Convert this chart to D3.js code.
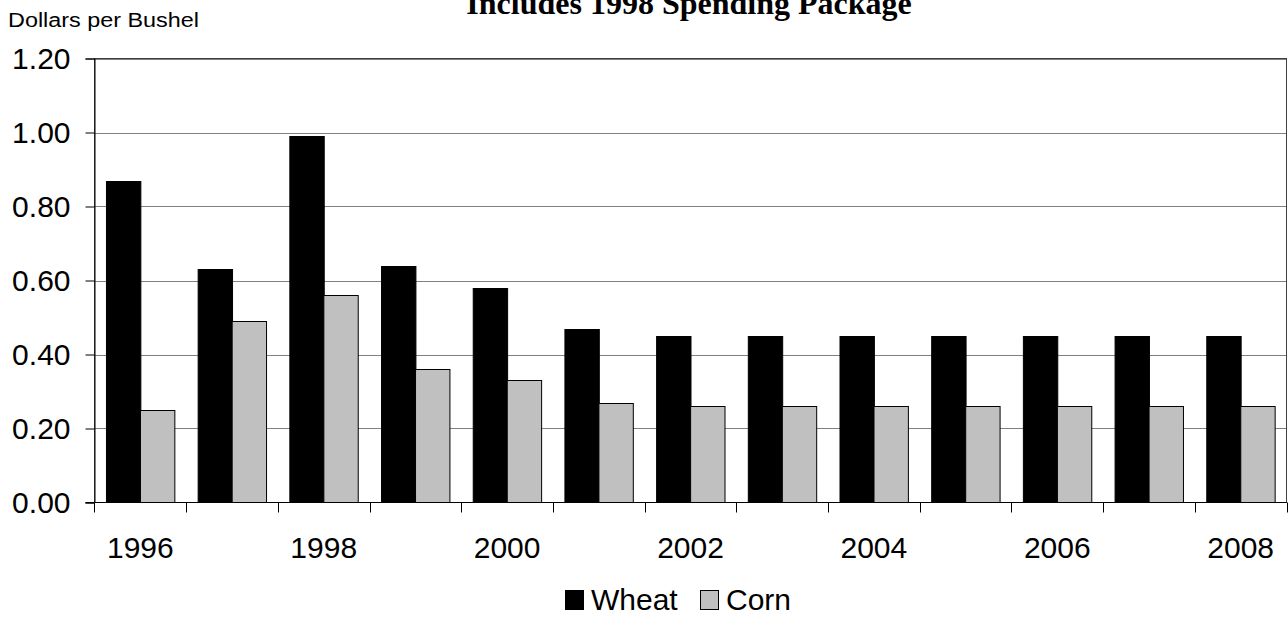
<!DOCTYPE html>
<html>
<head>
<meta charset="utf-8">
<script src="https://cdn.jsdelivr.net/npm/d3@7"></script>
<style>
  body { margin: 0; background: #fff; }
  svg text { font-family: Arial, "Liberation Sans", sans-serif; }
</style>
</head>
<body>
<svg id="chart" width="1288" height="618"></svg>
<script>
// data
const years = ["1996","1997","1998","1999","2000","2001","2002","2003","2004","2005","2006","2007","2008"];
const wheat = [0.87, 0.63, 0.99, 0.64, 0.58, 0.47, 0.45, 0.45, 0.45, 0.45, 0.45, 0.45, 0.45];
const corn  = [0.25, 0.49, 0.56, 0.36, 0.33, 0.27, 0.26, 0.26, 0.26, 0.26, 0.26, 0.26, 0.26];
const seriesNames = ["Wheat", "Corn"];
const seriesColors = ["#000000", "#c0c0c0"];
const yTicks = [0, 0.2, 0.4, 0.6, 0.8, 1.0, 1.2];
const labelYears = ["1996","1998","2000","2002","2004","2006","2008"];

const svg = d3.select("svg#chart");
const m = { left: 94.5, right: 1286.5, top: 58.5, bottom: 502.5 };

const x0 = d3.scaleBand()
    .domain(years)
    .range([m.left, m.right])
    .paddingInner(0.25)
    .paddingOuter(0.125);

const x1 = d3.scaleBand()
    .domain(seriesNames)
    .range([0, x0.bandwidth()]);

const y = d3.scaleLinear()
    .domain([0, 1.2])
    .range([m.bottom, m.top]);

// title (cut off at the top of the image)
svg.append("text")
    .attr("x", 689)
    .attr("y", 14)
    .attr("text-anchor", "middle")
    .style("font-family", "'Liberation Serif', 'Times New Roman', serif")
    .style("font-weight", "bold")
    .style("font-size", "32px")
    .text("Includes 1998 Spending Package");

svg.append("text")
    .attr("x", 8)
    .attr("y", 26.5)
    .attr("textLength", 191)
    .attr("lengthAdjust", "spacingAndGlyphs")
    .style("font-size", "20px")
    .text("Dollars per Bushel");

// gridlines
svg.append("g").selectAll("line")
    .data(yTicks.slice(1))
    .join("line")
    .attr("x1", m.left).attr("x2", m.right)
    .attr("y1", d => Math.round(y(d)) + 0.5).attr("y2", d => Math.round(y(d)) + 0.5)
    .attr("stroke", "#808080")
    .attr("stroke-width", 1);

// plot border
svg.append("rect")
    .attr("x", m.left).attr("y", m.top)
    .attr("width", m.right - m.left).attr("height", m.bottom - m.top)
    .attr("fill", "none")
    .attr("stroke", "#404040")
    .attr("stroke-width", 1);

// bars
const groups = svg.append("g").selectAll("g")
    .data(years)
    .join("g")
    .attr("transform", d => `translate(${x0(d)},0)`);

groups.selectAll("rect")
    .data((d, i) => [wheat[i], corn[i]].map((v, j) => ({ name: seriesNames[j], value: v, color: seriesColors[j] })))
    .join("rect")
    .attr("x", d => Math.round(x1(d.name)) + 0.5)
    .attr("width", x1.bandwidth())
    .attr("y", d => Math.round(y(d.value)) + 0.5)
    .attr("height", d => m.bottom - Math.round(y(d.value)) - 0.5)
    .attr("fill", d => d.color)
    .attr("stroke", "#000")
    .attr("stroke-width", 1);

// y axis
const yAxis = d3.axisLeft(y)
    .tickValues(yTicks)
    .tickFormat(d3.format(".2f"))
    .tickSize(9)
    .tickPadding(15);

svg.append("g")
    .attr("transform", `translate(${m.left},0)`)
    .call(yAxis)
    .call(g => g.select(".domain").attr("stroke", "#000"))
    .call(g => g.selectAll(".tick text").style("font-size", "30px").attr("fill", "#000")
        .style("font-family", "Arial, 'Liberation Sans', sans-serif"));

// x axis baseline and ticks at band boundaries
const bounds = years.map(d => x0(d) - x0.step() * x0.paddingInner() / 2).concat([m.right]);
svg.append("line")
    .attr("x1", m.left - 9).attr("x2", m.right)
    .attr("y1", m.bottom).attr("y2", m.bottom)
    .attr("stroke", "#000");
svg.append("g").selectAll("line")
    .data(bounds)
    .join("line")
    .attr("x1", d => Math.round(d) + 0.5).attr("x2", d => Math.round(d) + 0.5)
    .attr("y1", m.bottom).attr("y2", m.bottom + 10)
    .attr("stroke", "#000");

svg.append("g").selectAll("text")
    .data(labelYears)
    .join("text")
    .attr("x", d => x0(d) + x0.bandwidth() / 2)
    .attr("y", 558)
    .attr("text-anchor", "middle")
    .style("font-size", "30px")
    .text(d => d);

// legend
const legendItems = [
    { name: "Wheat", color: seriesColors[0], x: 565 },
    { name: "Corn", color: seriesColors[1], x: 700 }
];
const lg = svg.append("g").selectAll("g")
    .data(legendItems)
    .join("g")
    .attr("transform", d => `translate(${d.x},0)`);
lg.append("rect")
    .attr("x", 0.5).attr("y", 590.5)
    .attr("width", 18).attr("height", 19)
    .attr("fill", d => d.color)
    .attr("stroke", "#000");
lg.append("text")
    .attr("x", 26)
    .attr("y", 610)
    .style("font-size", "30px")
    .text(d => d.name);
</script>
</body>
</html>
